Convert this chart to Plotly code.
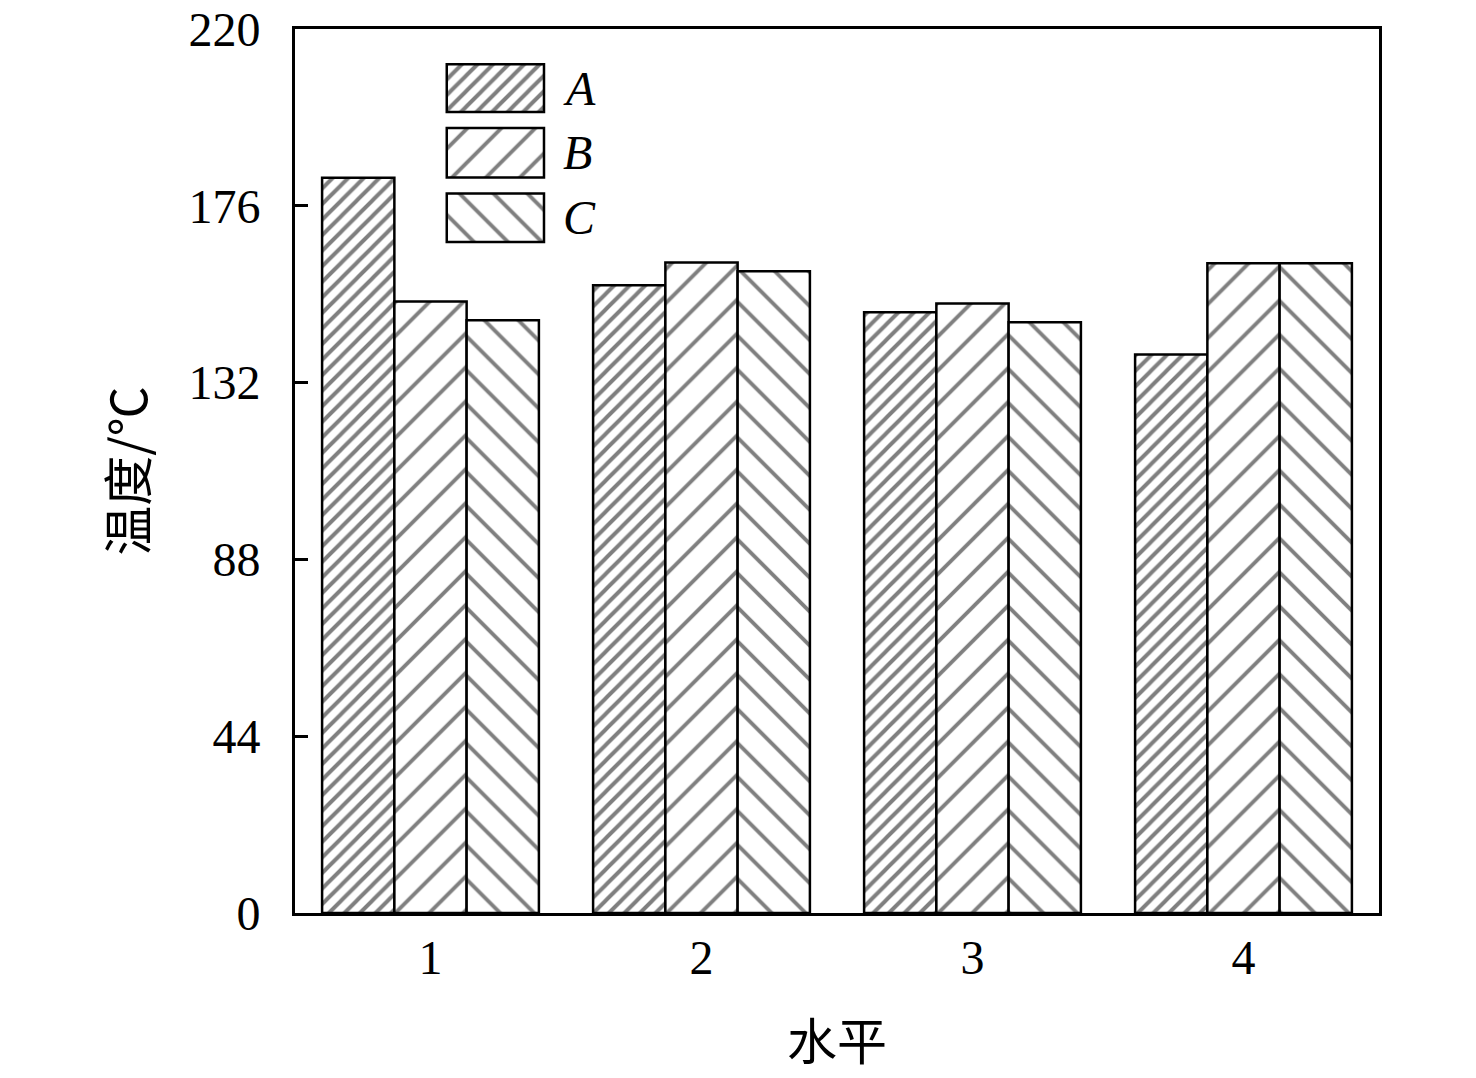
import plotly.graph_objects as go

levels = [1, 2, 3, 4]
series_names = ["A", "B", "C"]
values_A = [183.0, 156.2, 149.5, 139.0]
values_B = [152.2, 161.9, 151.7, 161.7]
values_C = [147.5, 159.7, 147.0, 161.7]
y_ticks = [0, 44, 88, 132, 176, 220]

patterns = {
    "A": dict(shape="/", size=11, solidity=0.36),
    "B": dict(shape="/", size=24, solidity=0.16),
    "C": dict(shape="\\", size=24, solidity=0.16),
}

SERIF = "Liberation Serif, Times New Roman, serif"
CJK = "Noto Sans CJK SC"

fig = go.Figure()
for name, vals in zip(series_names, [values_A, values_B, values_C]):
    p = patterns[name]
    fig.add_trace(go.Bar(
        x=levels, y=vals, name=name, showlegend=False,
        marker=dict(color="white", line=dict(color="black", width=2.5),
                    pattern=dict(shape=p["shape"], size=p["size"], solidity=p["solidity"],
                                 fgcolor="black", bgcolor="white", fillmode="overlay")),
    ))

# custom legend swatches on an overlay axis (0..1 coordinates of the plot area)
leg_x0, leg_x1 = 0.140, 0.2297
leg_rows = [(0.906, 0.960), (0.832, 0.888), (0.759, 0.814)]
for name, (y0, y1) in zip(series_names, leg_rows):
    p = patterns[name]
    fig.add_trace(go.Bar(
        x=[(leg_x0 + leg_x1) / 2], y=[y1 - y0], base=[y0], width=[leg_x1 - leg_x0],
        xaxis="x2", yaxis="y2", showlegend=False, hoverinfo="skip", offsetgroup="legend",
        marker=dict(color="white", line=dict(color="black", width=2.5),
                    pattern=dict(shape=p["shape"], size=p["size"], solidity=p["solidity"],
                                 fgcolor="black", bgcolor="white", fillmode="overlay")),
    ))
    fig.add_annotation(x=leg_x1 + 0.016, y=(y0 + y1) / 2, xref="x2", yref="y2",
                       text=f"<i>{name}</i>", showarrow=False, xanchor="left", yanchor="middle",
                       font=dict(family=SERIF, size=48, color="black"))

fig.update_layout(
    width=1460, height=1062,
    margin=dict(l=287, r=89, t=21, b=157),
    plot_bgcolor="white", paper_bgcolor="white",
    barmode="group", bargap=0.2, bargroupgap=0,
    font=dict(family=SERIF, size=48, color="black"),
    xaxis=dict(range=[0.5, 4.5], tickvals=levels, ticktext=[str(v) for v in levels],
               ticks="", showgrid=False, zeroline=False, automargin=False,
               showline=True, linecolor="black", linewidth=3, mirror=True,
               tickfont=dict(family=SERIF, size=48), ticklabelstandoff=0),
    yaxis=dict(range=[0, 220], tickvals=y_ticks, ticks="inside", ticklen=13, tickwidth=3,
               tickcolor="black", showgrid=False, zeroline=False, automargin=False,
               showline=True, linecolor="black", linewidth=3, mirror=True,
               ticklabeloverflow="allow",
               tickfont=dict(family=SERIF, size=48), ticklabelstandoff=22),
    xaxis2=dict(overlaying="x", range=[0, 1], visible=False, anchor="y2"),
    yaxis2=dict(overlaying="y", range=[0, 1], visible=False, anchor="x2"),
)

fig.add_annotation(x=0.5, y=-0.141, xref="paper", yref="paper", text="水平",
                   showarrow=False, xanchor="center", yanchor="middle", height=54,
                   font=dict(family=CJK, size=50, color="black"))
fig.add_annotation(x=-0.157, y=0.5, xref="paper", yref="paper", text="温度/℃",
                   showarrow=False, xanchor="center", yanchor="middle", textangle=-90,
                   font=dict(family=CJK, size=50, color="black"))

fig.write_html("out.html")
